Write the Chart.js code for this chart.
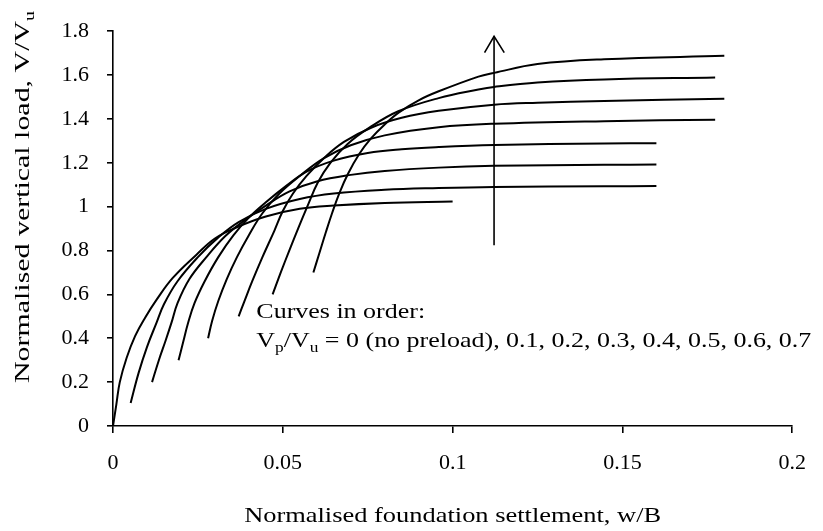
<!DOCTYPE html>
<html>
<head>
<meta charset="utf-8">
<script src="https://cdn.jsdelivr.net/npm/chart.js@4.4.1/dist/chart.umd.min.js"></script>
<style>
html,body{margin:0;padding:0;background:#fff;}
#wrap{width:823px;height:531px;position:relative;}
#fontprobe{position:absolute;left:-9999px;top:0;font-family:'Liberation Serif';font-size:20px;}
</style>
</head>
<body>
<div id="wrap"><canvas id="c" width="823" height="531"></canvas></div>
<span id="fontprobe">0.05 Normalised</span>
<script>
// ---- Data ----
const preloadLabels = ["0", "0.1", "0.2", "0.3", "0.4", "0.5", "0.6", "0.7"];

const w_p00 = [0, 0.001, 0.002, 0.004, 0.0065, 0.0095, 0.0128, 0.0176, 0.0245, 0.0300, 0.0363, 0.045, 0.055, 0.065, 0.080, 0.100];
const v_p00 = [0, 0.10, 0.20, 0.31, 0.41, 0.495, 0.575, 0.675, 0.78, 0.855, 0.905, 0.955, 0.99, 1.005, 1.017, 1.024];

const w_p01 = [0.0052, 0.0075, 0.0100, 0.0128, 0.0150, 0.0190, 0.0250, 0.0310, 0.0370, 0.0450, 0.0550, 0.0650, 0.0800, 0.0959, 0.1122, 0.1446, 0.160];
const v_p01 = [0.105, 0.24, 0.36, 0.47, 0.555, 0.66, 0.77, 0.86, 0.93, 0.99, 1.035, 1.06, 1.077, 1.085, 1.09, 1.093, 1.094];

const w_p02 = [0.0115, 0.0135, 0.0155, 0.0172, 0.0190, 0.0225, 0.0275, 0.0330, 0.0385, 0.0450, 0.0520, 0.0600, 0.0700, 0.0800, 0.0959, 0.1122, 0.1446, 0.160];
const v_p02 = [0.20, 0.30, 0.39, 0.47, 0.56, 0.67, 0.77, 0.865, 0.935, 1.005, 1.07, 1.115, 1.145, 1.163, 1.178, 1.186, 1.191, 1.192];

const w_p03 = [0.0193, 0.0207, 0.0221, 0.0240, 0.0270, 0.0310, 0.0355, 0.0400, 0.0450, 0.0510, 0.0570, 0.0650, 0.0750, 0.0850, 0.0959, 0.1122, 0.1446, 0.160];
const v_p03 = [0.30, 0.385, 0.47, 0.56, 0.66, 0.77, 0.87, 0.95, 1.02, 1.095, 1.16, 1.21, 1.245, 1.262, 1.272, 1.281, 1.288, 1.289];

const w_p04 = [0.0280, 0.0292, 0.0310, 0.0335, 0.0365, 0.0400, 0.0440, 0.0490, 0.0550, 0.0620, 0.0700, 0.0800, 0.0959, 0.1122, 0.1446, 0.1773];
const v_p04 = [0.40, 0.48, 0.57, 0.67, 0.77, 0.87, 0.97, 1.06, 1.14, 1.22, 1.28, 1.325, 1.362, 1.378, 1.39, 1.396];

const w_p05 = [0.0370, 0.0386, 0.0410, 0.0440, 0.0475, 0.0500, 0.0530, 0.0570, 0.0620, 0.0680, 0.0760, 0.0850, 0.0959, 0.1122, 0.1250, 0.1446, 0.180];
const v_p05 = [0.50, 0.565, 0.66, 0.77, 0.89, 0.98, 1.06, 1.14, 1.22, 1.295, 1.36, 1.405, 1.437, 1.465, 1.474, 1.482, 1.492];

const w_p06 = [0.0470, 0.0494, 0.0519, 0.0545, 0.0572, 0.0603, 0.0640, 0.0690, 0.0755, 0.0840, 0.0959, 0.1076, 0.1122, 0.1250, 0.1446, 0.1773];
const v_p06 = [0.60, 0.70, 0.80, 0.90, 1.00, 1.11, 1.20, 1.285, 1.36, 1.435, 1.495, 1.534, 1.546, 1.566, 1.58, 1.589];

const w_p07 = [0.0590, 0.0608, 0.0626, 0.0645, 0.0666, 0.0692, 0.0725, 0.0759, 0.0800, 0.0842, 0.0900, 0.0959, 0.1076, 0.1122, 0.1250, 0.1446, 0.180];
const v_p07 = [0.70, 0.79, 0.88, 0.97, 1.06, 1.15, 1.24, 1.31, 1.375, 1.43, 1.485, 1.526, 1.593, 1.61, 1.65, 1.672, 1.688];

const arrowShaftW = [0.1122, 0.1122];
const arrowShaftV = [0.824, 1.777];
const arrowHeadW = [0.1094, 0.1122, 0.1152];
const arrowHeadV = [1.702, 1.777, 1.702];

const xTickLabels = ["0", "0.05", "0.1", "0.15", "0.2"];
const yTickLabels = ["0", "0.2", "0.4", "0.6", "0.8", "1", "1.2", "1.4", "1.6", "1.8"];

const xTitle = "Normalised foundation settlement, w/B";
const yTitleParts = [["Normalised vertical load, V/V", false], ["u", true]];
const noteLine1 = [["Curves in order:", false]];
const noteLine2 = [["V", false], ["p", true], ["/V", false], ["u", true], [" = 0 (no preload), 0.1, 0.2, 0.3, 0.4, 0.5, 0.6, 0.7", false]];

// ---- Build datasets ----
const curveW = [w_p00, w_p01, w_p02, w_p03, w_p04, w_p05, w_p06, w_p07];
const curveV = [v_p00, v_p01, v_p02, v_p03, v_p04, v_p05, v_p06, v_p07];
const toXY = (ws, vs) => ws.map((w, i) => ({x: w, y: vs[i]}));

const datasets = curveW.map((ws, k) => ({
  label: "Vp/Vu = " + preloadLabels[k],
  data: toXY(ws, curveV[k]),
  borderColor: "#000",
  borderWidth: 2,
  pointRadius: 0,
  showLine: true,
  fill: false,
  tension: 0.4
}));
datasets.push({
  label: "arrow",
  data: toXY(arrowShaftW, arrowShaftV),
  borderColor: "#000", borderWidth: 1.6, pointRadius: 0, showLine: true, tension: 0
});
datasets.push({
  label: "arrowhead",
  data: toXY(arrowHeadW, arrowHeadV),
  borderColor: "#000", borderWidth: 1.6, pointRadius: 0, showLine: true, tension: 0
});

const FONT = "'Liberation Serif', serif";
const FS = 21;
const TICK_FS = 22;

function drawRich(ctx, parts, x, y, size, sx) {
  const sub = Math.round(size * 0.68);
  ctx.save();
  ctx.translate(x, y);
  ctx.scale(sx, 1);
  ctx.textBaseline = "alphabetic";
  ctx.textAlign = "left";
  ctx.fillStyle = "#000";
  let cx = 0;
  for (const [t, isSub] of parts) {
    ctx.font = (isSub ? sub : size) + "px " + FONT;
    ctx.fillText(t, cx, isSub ? size * 0.22 : 0);
    cx += ctx.measureText(t).width;
  }
  ctx.restore();
  return cx * sx;
}
function richWidth(ctx, parts, size) {
  const sub = Math.round(size * 0.68);
  let w = 0;
  for (const [t, isSub] of parts) {
    ctx.font = (isSub ? sub : size) + "px " + FONT;
    w += ctx.measureText(t).width;
  }
  return w;
}

const textPlugin = {
  id: "texts",
  beforeDraw(chart) {
    const ctx = chart.ctx;
    ctx.save();
    ctx.fillStyle = "#fff";
    ctx.fillRect(0, 0, chart.width, chart.height);
    ctx.restore();
  },
  afterDraw(chart) {
    const ctx = chart.ctx;
    const xs = chart.scales.x, ys = chart.scales.y;
    // x title: spans about 417 px in the reference
    const xNat = richWidth(ctx, [[xTitle, false]], FS);
    const sxX = 417 / xNat;
    const xc = (chart.chartArea.left + chart.chartArea.right) / 2;
    drawRich(ctx, [[xTitle, false]], xc - 417 / 2, 522, FS, sxX);
    // y title (rotated), spans about 372 px
    const yNat = richWidth(ctx, yTitleParts, FS);
    const sxY = 372 / yNat;
    ctx.save();
    ctx.translate(29, 197);
    ctx.rotate(-Math.PI / 2);
    drawRich(ctx, yTitleParts, -372 / 2, 0, FS, sxY);
    ctx.restore();
    // note, second line spans about 555 px
    const nNat = richWidth(ctx, noteLine2, FS);
    const sxN = 555 / nNat;
    const nx = xs.getPixelForValue(0.0422);
    drawRich(ctx, noteLine1, nx, ys.getPixelForValue(0.492), FS, sxN);
    drawRich(ctx, noteLine2, nx, ys.getPixelForValue(0.359), FS, sxN);
  }
};

const findLabel = (labels, v) => {
  for (const l of labels) if (Math.abs(Number(l) - v) < 1e-6) return l;
  return "";
};

function build() {
  new Chart(document.getElementById("c"), {
    type: "scatter",
    data: { datasets },
    options: {
      responsive: false,
      animation: false,
      layout: { padding: { top: 20, right: 28, left: 0, bottom: 0 } },
      plugins: { legend: { display: false }, tooltip: { enabled: false } },
      scales: {
        x: {
          type: "linear", min: 0, max: 0.2,
          afterFit(s) { s.height = 105; },
          border: { display: true, color: "#000", width: 1.6 },
          grid: { display: true, drawOnChartArea: false, drawTicks: true, tickLength: 7, color: "#000", lineWidth: 1.6 },
          ticks: { stepSize: 0.05, padding: 17, color: "#000", maxRotation: 0,
            font: { family: FONT, size: TICK_FS },
            callback: (v) => findLabel(xTickLabels, v) }
        },
        y: {
          type: "linear", min: 0, max: 1.8,
          afterFit(s) { s.width = 113; },
          border: { display: true, color: "#000", width: 1.6 },
          grid: { display: true, drawOnChartArea: false, drawTicks: true, tickLength: 6, color: "#000", lineWidth: 1.6 },
          ticks: { stepSize: 0.2, padding: 18, color: "#000",
            font: { family: FONT, size: TICK_FS },
            callback: (v) => findLabel(yTickLabels, v) }
        }
      }
    },
    plugins: [textPlugin]
  });
}

const fontReady = (document.fonts && document.fonts.load)
  ? Promise.all([document.fonts.load("21px 'Liberation Serif'"), document.fonts.load("14px 'Liberation Serif'")]).catch(() => {})
  : Promise.resolve();
fontReady.then(build, build);
</script>
</body>
</html>
